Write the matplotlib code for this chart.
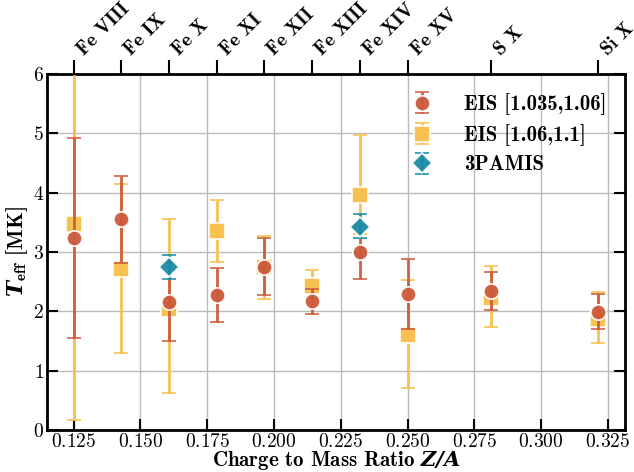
import numpy as np
import matplotlib.pyplot as plt

plt.rcParams['font.family'] = 'serif'
plt.rcParams['font.serif'] = ['cmr10']
plt.rcParams['axes.formatter.use_mathtext'] = True
plt.rcParams['mathtext.fontset'] = 'custom'
plt.rcParams['mathtext.rm'] = 'cmb10'
plt.rcParams['mathtext.it'] = 'cmmi10'
plt.rcParams['mathtext.bfit'] = 'DejaVu Serif:italic:bold'

# ions and their charge to mass ratio
ions = ["Fe VIII", "Fe IX", "Fe X", "Fe XI", "Fe XII", "Fe XIII", "Fe XIV", "Fe XV", "S X", "Si X"]
za = [7/56, 8/56, 9/56, 10/56, 11/56, 12/56, 13/56, 14/56, 9/32, 9/28]

# EIS [1.035,1.06]
t_low = [3.24, 3.55, 2.16, 2.27, 2.75, 2.17, 3.00, 2.29, 2.34, 1.99]
t_low_up = [4.92, 4.28, 2.82, 2.73, 3.23, 2.38, 3.44, 2.89, 2.67, 2.30]
t_low_dn = [1.55, 2.82, 1.50, 1.82, 2.27, 1.95, 2.55, 1.70, 2.03, 1.70]

# EIS [1.06,1.1]
t_high = [3.47, 2.72, 2.04, 3.35, 2.74, 2.42, 3.97, 1.60, 2.22, 1.87]
t_high_up = [6.80, 4.15, 3.55, 3.87, 3.27, 2.70, 4.97, 2.53, 2.77, 2.33]
t_high_dn = [0.17, 1.29, 0.63, 2.84, 2.21, 2.20, 3.30, 0.70, 1.74, 1.47]

# 3PAMIS
za_3p = [9/56, 13/56]
t_3p = [2.74, 3.43]
t_3p_up = [2.95, 3.64]
t_3p_dn = [2.55, 3.24]

red = "#cc5a3b"
yellow = "#f8bf4a"
teal = "#1b8ca6"


def err(v, up, dn):
    v = np.array(v)
    return [v - np.array(dn), np.array(up) - v]


fig, ax = plt.subplots(figsize=(6.34, 4.72), dpi=100)
fig.subplots_adjust(left=0.074, right=0.986, top=0.843, bottom=0.089)

kw = dict(ls="none", elinewidth=2, capsize=5, capthick=2, mec="white", mew=1.2, alpha=0.95)
h2 = ax.errorbar(za, t_high, yerr=err(t_high, t_high_up, t_high_dn), fmt="s", ms=11,
                 color=yellow, label="EIS [1.06,1.1]", zorder=3, **kw)
h1 = ax.errorbar(za, t_low, yerr=err(t_low, t_low_up, t_low_dn), fmt="o", ms=11,
                 color=red, label="EIS [1.035,1.06]", zorder=4, **kw)
h3 = ax.errorbar(za_3p, t_3p, yerr=err(t_3p, t_3p_up, t_3p_dn), fmt="D", ms=10,
                 color=teal, label="3PAMIS", zorder=5, **kw)

ax.set_xlim(0.115, 0.3314)
ax.set_ylim(0, 6)
ax.set_xticks(np.arange(0.125, 0.326, 0.025))
ax.set_yticks(range(7))
ax.grid(True, color="#bbbbbb", lw=1)
ax.set_axisbelow(True)
ax.tick_params(direction="in", length=8, width=1.5, labelsize=14, right=True, top=False, pad=2)
for s in ax.spines.values():
    s.set_linewidth(2)

ax.set_xlabel(r"Charge to Mass Ratio $\mathbfit{Z/A}$", fontfamily="cmb10", fontsize=15, labelpad=-1)
ax.set_ylabel(r"$\mathbfit{T}_{\mathrm{eff}}$ [MK]", fontfamily="cmb10", fontsize=15.5, labelpad=2)

ax2 = ax.twiny()
ax2.set_xlim(ax.get_xlim())
ax2.set_xticks(za)
ax2.set_xticklabels(ions, rotation=45, ha="left", va="bottom",
                    fontfamily="cmb10", fontsize=14)
ax2.tick_params(direction="out", length=10, width=1.5, pad=1)

leg = ax.legend([h1, h2, h3], ["EIS [1.035,1.06]", "EIS [1.06,1.1]", "3PAMIS"],
                loc="upper right", frameon=False, prop={"family": "cmb10", "size": 15},
                borderaxespad=0.5, handletextpad=1.0, labelspacing=0.45)

fig.savefig("out.png", dpi=100)
